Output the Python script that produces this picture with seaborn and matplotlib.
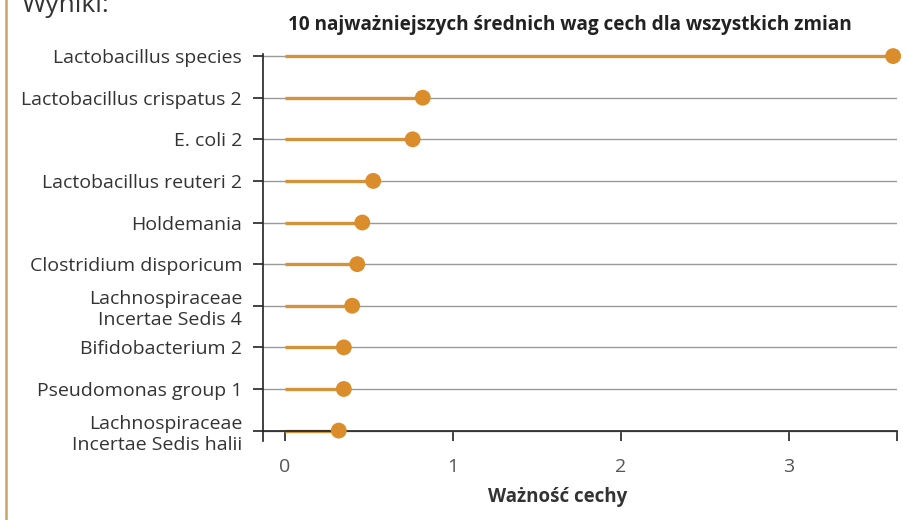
import numpy as np
import pandas as pd
import matplotlib.pyplot as plt
import seaborn as sns
from matplotlib.lines import Line2D

# dane: 10 najważniejszych cech (kolejność od góry)
features = ['Lactobacillus species', 'Lactobacillus crispatus 2', 'E. coli 2',
            'Lactobacillus reuteri 2', 'Holdemania', 'Clostridium disporicum',
            'Lachnospiraceae\nIncertae Sedis 4', 'Bifidobacterium 2',
            'Pseudomonas group 1', 'Lachnospiraceae\nIncertae Sedis halii']
importance = [3.62, 0.82, 0.76, 0.525, 0.46, 0.43, 0.40, 0.35, 0.35, 0.32]
xtick_vals = [0, 1, 2, 3]

df = pd.DataFrame({'Feature': features, 'Importance': importance})

sns.set_theme(style='white')
plt.rcParams['font.family'] = ['Open Sans', 'DejaVu Sans']
TXT = '#333333'
STEM = '#D4933A'
DOT = '#DA8D2A'

fig = plt.figure(figsize=(9.04, 5.2), dpi=100)
ax = fig.add_axes([263/904, 1 - 441/520, 634/904, (441 - 54)/520])

pos = np.arange(len(df))
ax.hlines(pos, 0, df['Importance'], color=STEM, lw=2.4, zorder=2)
sns.scatterplot(data=df, x='Importance', y='Feature', ax=ax, color=DOT,
                s=130, edgecolor='none', zorder=3, legend=False, clip_on=False)

xmax = 3.643
ax.set_xlim(-0.131, xmax)
ax.set_ylim(len(df) - 1 + 0.25, -0.05)
ax.set_yticks(pos)
ax.set_yticklabels(df['Feature'], linespacing=1.25)
ax.set_xticks(xtick_vals + [xmax])
ax.set_xticklabels([str(v) for v in xtick_vals] + [''])

# linie siatki
ax.grid(axis='y', color='#9a9a9a', lw=1, zorder=0)
ax.grid(axis='x', visible=False)

for s in ['top', 'right']:
    ax.spines[s].set_visible(False)
ax.spines['bottom'].set_position(('data', len(df) - 1))
for s in ['left', 'bottom']:
    ax.spines[s].set_color('#222222')
    ax.spines[s].set_linewidth(1.2)

ax.tick_params(axis='y', direction='out', length=7, width=1.2, color='#222222',
               pad=8, labelsize=14, labelcolor=TXT, left=True)
ax.tick_params(axis='x', direction='out', length=7, width=1.2, color='#222222',
               pad=13, labelsize=14, labelcolor='#555555', bottom=True)

ax.set_xlabel('Ważność cechy', fontsize=13.5, fontweight='bold', color=TXT)
ax.xaxis.set_label_coords(0.465, -0.12)
ax.set_ylabel('')
ax.set_title('10 najważniejszych średnich wag cech dla wszystkich zmian',
             fontsize=13.7, fontweight='bold', color='#222222', x=0.484, pad=17)

# fragment zrzutu ekranu: nagłówek i ramka po lewej
fig.text(22/904, 1 - 12/520, 'Wyniki:', fontsize=19, color=TXT, va='baseline')
fig.add_artist(Line2D([6.5/904, 6.5/904], [0, 1], transform=fig.transFigure,
                      color='#C9A467', lw=1.8))

fig.savefig('out.png', dpi=100)
